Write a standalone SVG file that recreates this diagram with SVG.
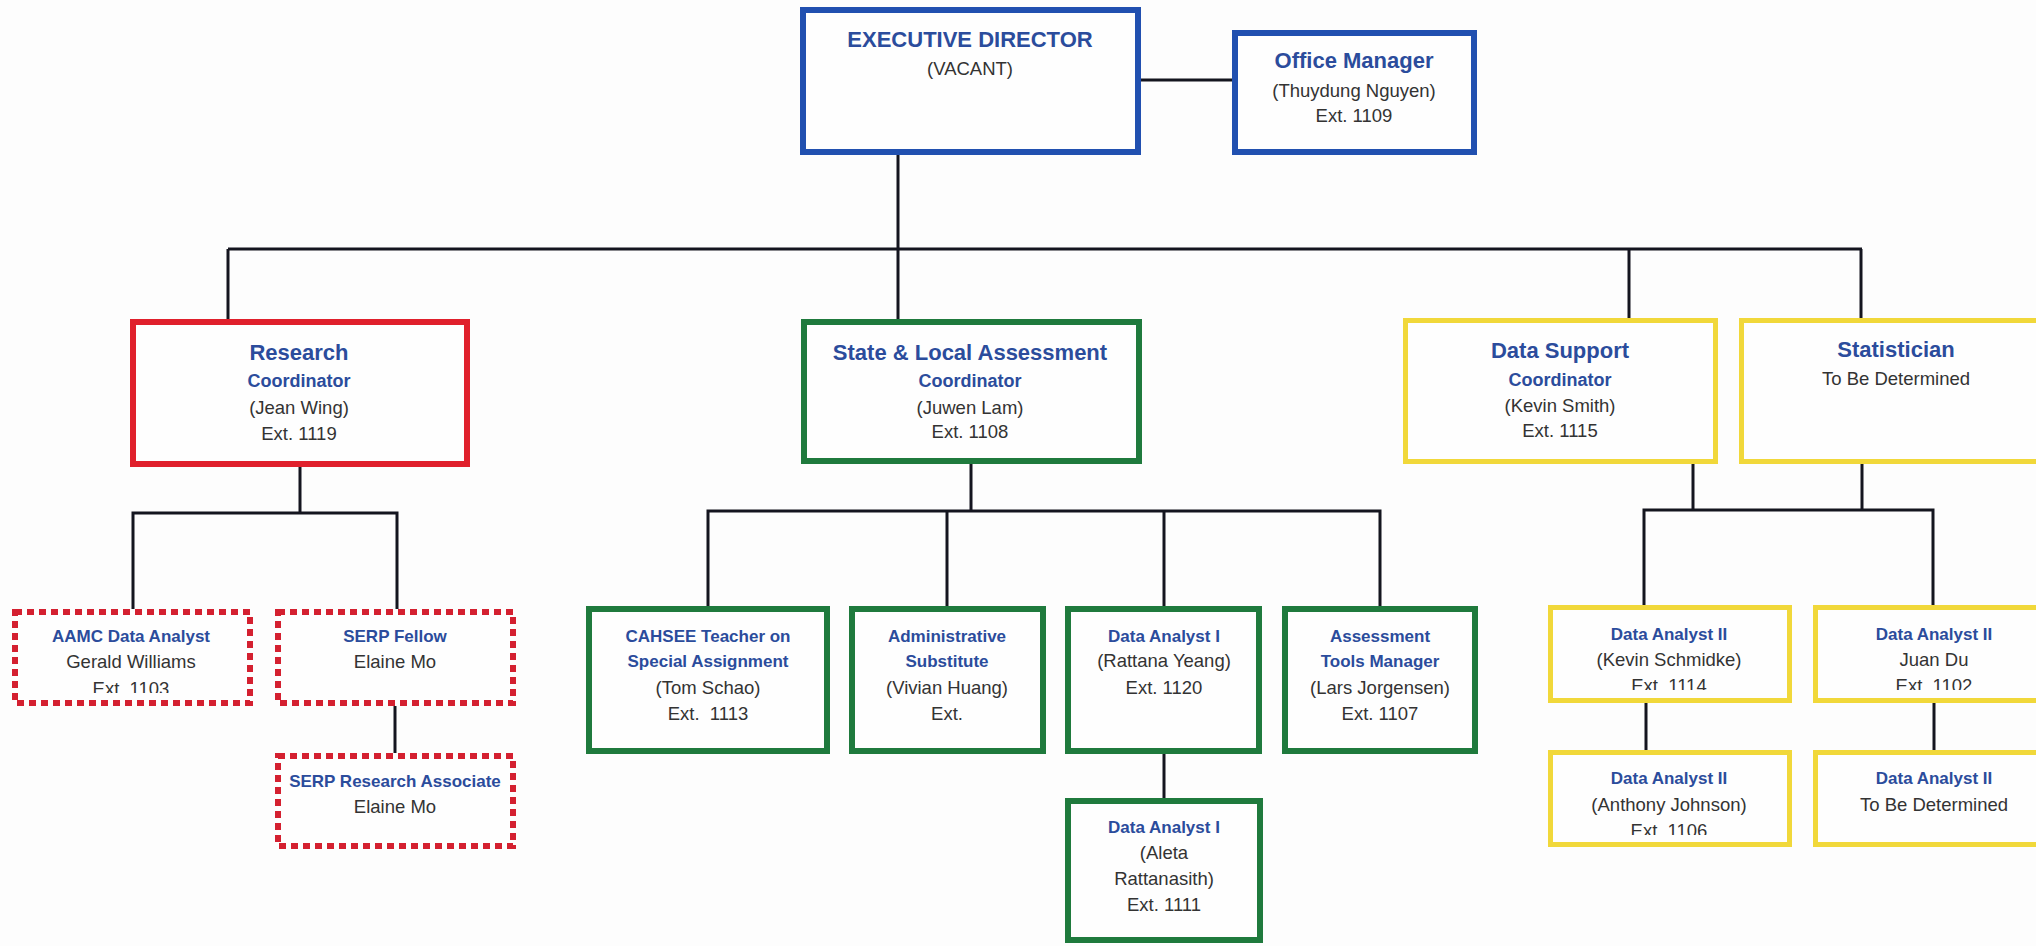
<svg xmlns="http://www.w3.org/2000/svg" width="2036" height="946" viewBox="0 0 2036 946">
<style>
.bg{fill:#fdfdfd}
.box{fill:#fefefe}
.blue{stroke:#2150b0;stroke-width:6}
.red{stroke:#e0202c;stroke-width:6}
.green{stroke:#1f7a3d;stroke-width:6}
.yellow{stroke:#f1d83a;stroke-width:5}
.dot{stroke:#d42030;stroke-width:6;stroke-dasharray:7 5}
.con{fill:none;stroke:#14151f;stroke-width:3}
text{font-family:"Liberation Sans",Arial,sans-serif;text-anchor:middle}
.t1{font-size:22px;font-weight:bold;fill:#2b4c9c}
.t2{font-size:18px;font-weight:bold;fill:#2b4c9c}
.t3{font-size:17px;font-weight:bold;fill:#2b4c9c}
.b{font-size:18.5px;fill:#333}
</style>
<defs>
<clipPath id="cA"><rect x="0" y="0" width="2036" height="693"/></clipPath>
<clipPath id="cB"><rect x="0" y="0" width="2036" height="690"/></clipPath>
<clipPath id="cC"><rect x="0" y="0" width="2036" height="835"/></clipPath>
</defs>
<rect class="bg" x="0" y="0" width="2036" height="946"/>
<g id="connectors">
<path class="con" d="M1141 80H1232"/>
<path class="con" d="M898 155V319"/>
<path class="con" d="M228 249H1862"/>
<path class="con" d="M228 249V319"/>
<path class="con" d="M1629 249V318"/>
<path class="con" d="M1861 249V318"/>
<path class="con" d="M300 467V513"/>
<path class="con" d="M133 609V513H397V609"/>
<path class="con" d="M395 706V753"/>
<path class="con" d="M971 464V511"/>
<path class="con" d="M708 606V511H1380V606"/>
<path class="con" d="M947 511V606"/>
<path class="con" d="M1164 511V606"/>
<path class="con" d="M1164 754V798"/>
<path class="con" d="M1693 464V510"/>
<path class="con" d="M1862 464V510"/>
<path class="con" d="M1644 605V510H1933V605"/>
<path class="con" d="M1646 703V750"/>
<path class="con" d="M1934 703V750"/>
</g>
<g id="exec">
<rect class="box blue" x="803" y="10" width="335" height="142"/>
<text class="t1" x="970" y="47">EXECUTIVE DIRECTOR</text>
<text class="b" x="970" y="75">(VACANT)</text>
</g>
<g id="office">
<rect class="box blue" x="1235" y="33" width="239" height="119"/>
<text class="t1" x="1354" y="68">Office Manager</text>
<text class="b" x="1354" y="97">(Thuydung Nguyen)</text>
<text class="b" x="1354" y="122">Ext. 1109</text>
</g>
<g id="research">
<rect class="box red" x="133" y="322" width="334" height="142"/>
<text class="t1" x="299" y="360">Research</text>
<text class="t2" x="299" y="387">Coordinator</text>
<text class="b" x="299" y="414">(Jean Wing)</text>
<text class="b" x="299" y="440">Ext. 1119</text>
</g>
<g id="state">
<rect class="box green" x="804" y="322" width="335" height="139"/>
<text class="t1" x="970" y="360">State &amp; Local Assessment</text>
<text class="t2" x="970" y="387">Coordinator</text>
<text class="b" x="970" y="414">(Juwen Lam)</text>
<text class="b" x="970" y="438">Ext. 1108</text>
</g>
<g id="datasupport">
<rect class="box yellow" x="1405.5" y="320.5" width="310" height="141"/>
<text class="t1" x="1560" y="358">Data Support</text>
<text class="t2" x="1560" y="386">Coordinator</text>
<text class="b" x="1560" y="412">(Kevin Smith)</text>
<text class="b" x="1560" y="437">Ext. 1115</text>
</g>
<g id="statistician">
<rect class="box yellow" x="1741.5" y="320.5" width="320" height="141"/>
<text class="t1" x="1896" y="357">Statistician</text>
<text class="b" x="1896" y="385">To Be Determined</text>
</g>
<g id="aamc">
<rect class="box dot" x="15" y="612" width="235" height="91"/>
<text class="t3" x="131" y="642">AAMC Data Analyst</text>
<text class="b" x="131" y="668">Gerald Williams</text>
<text class="b" x="131" y="695" clip-path="url(#cA)">Ext. 1103</text>
</g>
<g id="serpfellow">
<rect class="box dot" x="278" y="612" width="235" height="91"/>
<text class="t3" x="395" y="642">SERP Fellow</text>
<text class="b" x="395" y="668">Elaine Mo</text>
</g>
<g id="serpra">
<rect class="box dot" x="278" y="756" width="235" height="90"/>
<text class="t3" x="395" y="787">SERP Research Associate</text>
<text class="b" x="395" y="813">Elaine Mo</text>
</g>
<g id="cahsee">
<rect class="box green" x="589" y="609" width="238" height="142"/>
<text class="t3" x="708" y="642">CAHSEE Teacher on</text>
<text class="t3" x="708" y="667">Special Assignment</text>
<text class="b" x="708" y="694">(Tom Schao)</text>
<text class="b" x="708" y="720" xml:space="preserve">Ext.  1113</text>
</g>
<g id="adminsub">
<rect class="box green" x="852" y="609" width="191" height="142"/>
<text class="t3" x="947" y="642">Administrative</text>
<text class="t3" x="947" y="667">Substitute</text>
<text class="b" x="947" y="694">(Vivian Huang)</text>
<text class="b" x="947" y="720">Ext.</text>
</g>
<g id="analyst1">
<rect class="box green" x="1068" y="609" width="191" height="142"/>
<text class="t3" x="1164" y="642">Data Analyst I</text>
<text class="b" x="1164" y="667">(Rattana Yeang)</text>
<text class="b" x="1164" y="694">Ext. 1120</text>
</g>
<g id="assessment">
<rect class="box green" x="1285" y="609" width="190" height="142"/>
<text class="t3" x="1380" y="642">Assessment</text>
<text class="t3" x="1380" y="667">Tools Manager</text>
<text class="b" x="1380" y="694">(Lars Jorgensen)</text>
<text class="b" x="1380" y="720">Ext. 1107</text>
</g>
<g id="analyst1b">
<rect class="box green" x="1068" y="801" width="192" height="139"/>
<text class="t3" x="1164" y="833">Data Analyst I</text>
<text class="b" x="1164" y="859">(Aleta</text>
<text class="b" x="1164" y="885">Rattanasith)</text>
<text class="b" x="1164" y="911">Ext. 1111</text>
</g>
<g id="analyst2a">
<rect class="box yellow" x="1550.5" y="607.5" width="239" height="93"/>
<text class="t3" x="1669" y="640">Data Analyst II</text>
<text class="b" x="1669" y="666">(Kevin Schmidke)</text>
<text class="b" x="1669" y="692" clip-path="url(#cB)">Ext. 1114</text>
</g>
<g id="analyst2b">
<rect class="box yellow" x="1815.5" y="607.5" width="250" height="93"/>
<text class="t3" x="1934" y="640">Data Analyst II</text>
<text class="b" x="1934" y="666">Juan Du</text>
<text class="b" x="1934" y="692" clip-path="url(#cB)">Ext. 1102</text>
</g>
<g id="analyst2c">
<rect class="box yellow" x="1550.5" y="752.5" width="239" height="92"/>
<text class="t3" x="1669" y="784">Data Analyst II</text>
<text class="b" x="1669" y="811">(Anthony Johnson)</text>
<text class="b" x="1669" y="837" clip-path="url(#cC)">Ext. 1106</text>
</g>
<g id="analyst2d">
<rect class="box yellow" x="1815.5" y="752.5" width="250" height="92"/>
<text class="t3" x="1934" y="784">Data Analyst II</text>
<text class="b" x="1934" y="811">To Be Determined</text>
</g>
</svg>
